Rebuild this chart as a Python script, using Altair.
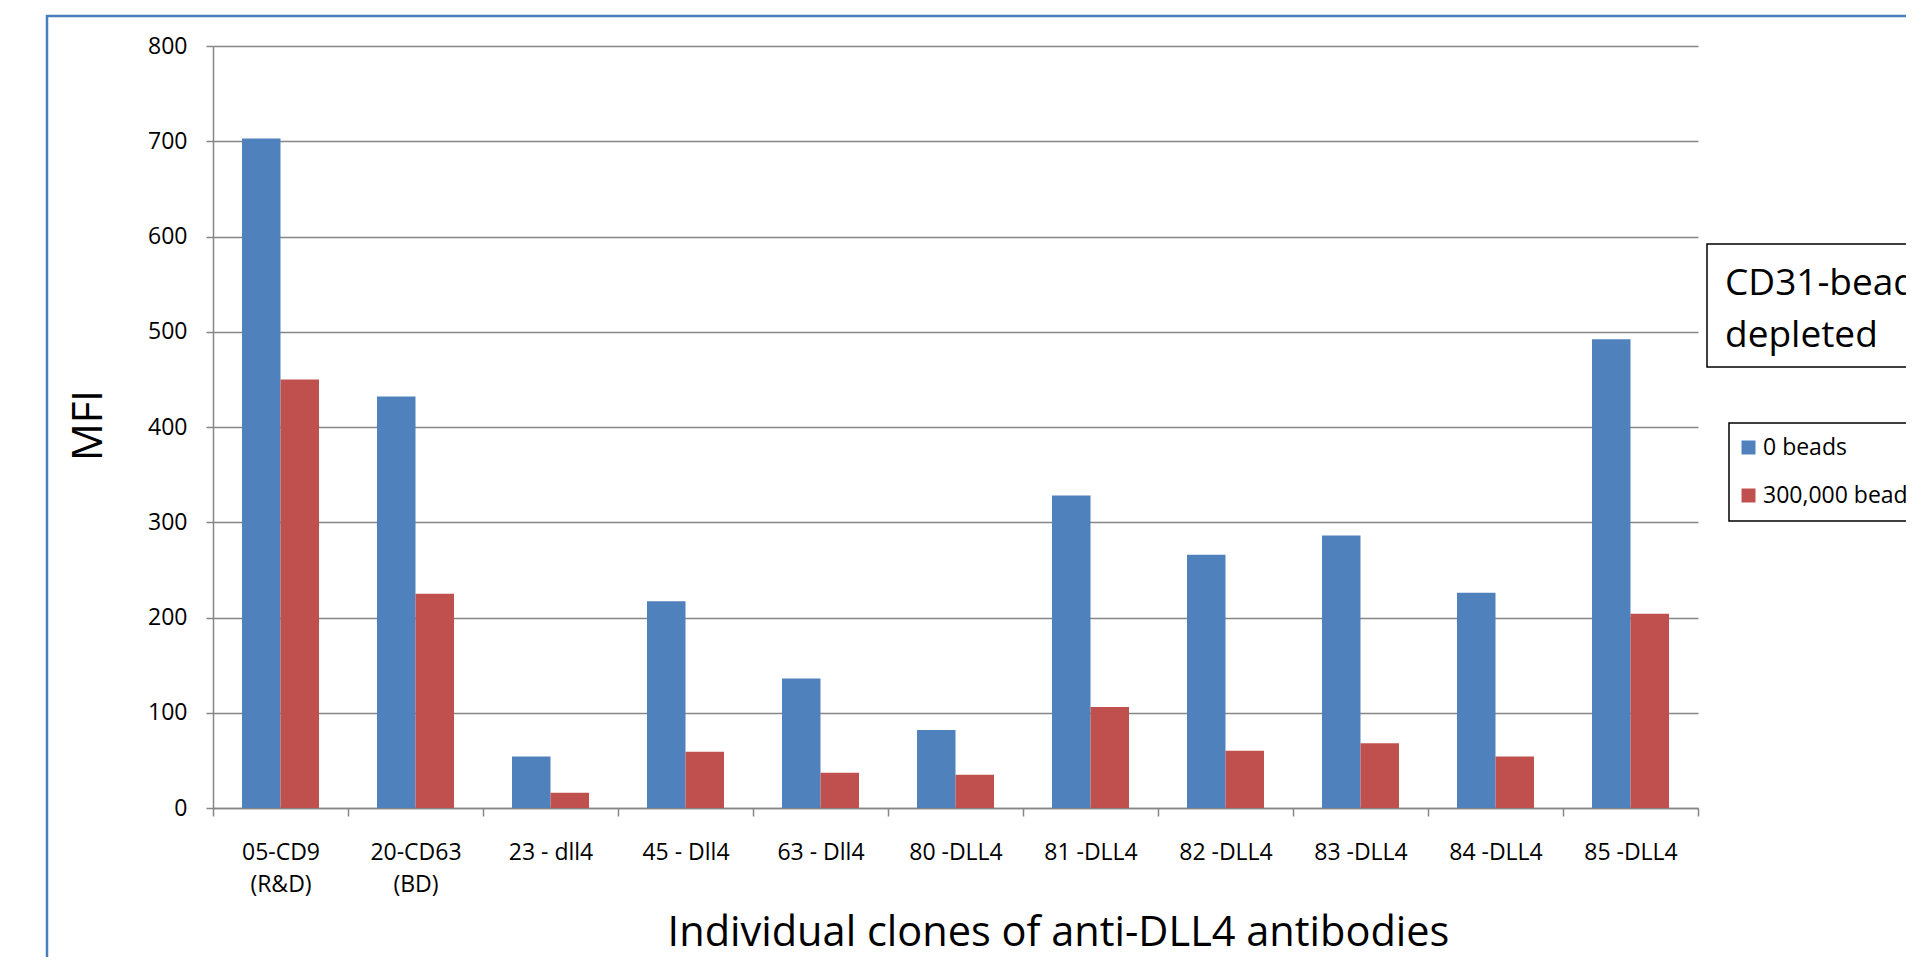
import altair as alt
import pandas as pd

clones = ["05-CD9 (R&D)", "20-CD63 (BD)", "23 - dll4", "45 - Dll4", "63 - Dll4",
          "80 -DLL4", "81 -DLL4", "82 -DLL4", "83 -DLL4", "84 -DLL4", "85 -DLL4"]
beads0 = [703, 432, 54, 217, 136, 82, 328, 266, 286, 226, 492]
beads300k = [450, 225, 16, 59, 37, 35, 106, 60, 68, 54, 204]
series_names = ["0 beads", "300,000 beads"]
series_colors = ["#4f81bd", "#c0504d"]
y_ticks = [0, 100, 200, 300, 400, 500, 600, 700, 800]
box_text = "CD31-beads\ndepleted"

rows = []
for c, a, b in zip(clones, beads0, beads300k):
    rows.append({"clone": c, "series": series_names[0], "value": a})
    rows.append({"clone": c, "series": series_names[1], "value": b})
df = pd.DataFrame(rows)

FONT = "Open Sans"
W, H = 1485, 762

bars = alt.Chart(df).mark_bar().encode(
    x=alt.X("clone:N", sort=clones,
            scale=alt.Scale(paddingInner=0, paddingOuter=0),
            axis=alt.Axis(title="Individual clones of anti-DLL4 antibodies",
                          labelAngle=0, tickBand="extent", tickSize=8,
                          labelPadding=25, labelFontSize=23, labelLineHeight=32,
                          labelColor="black", labelFont=FONT,
                          labelExpr="split(replace(datum.label, ' (', '|('), '|')",
                          domainColor="#868686", tickColor="#868686",
                          domainWidth=1.5, tickWidth=1.5, grid=False,
                          titleFont=FONT, titleFontSize=41.5, titleFontWeight="normal",
                          titleColor="black", titleX=845, titleY=137,
                          titleAlign="center", titleBaseline="alphabetic")),
    xOffset=alt.XOffset("series:N", sort=series_names,
                        scale=alt.Scale(paddingInner=0, paddingOuter=0.753)),
    y=alt.Y("value:Q", scale=alt.Scale(domain=[0, 800], nice=False),
            axis=alt.Axis(title="MFI", values=y_ticks, tickSize=7, labelPadding=19,
                          labelFontSize=23, labelFont=FONT, labelColor="black",
                          domainColor="#868686", tickColor="#868686",
                          domainWidth=1.5, tickWidth=1.5,
                          grid=True, gridColor="#868686", gridWidth=1.5,
                          titleFont=FONT, titleFontSize=42, titleFontWeight="normal",
                          titleColor="black", titleAngle=270, titleX=-125, titleY=379,
                          titleAlign="center", titleBaseline="middle")),
    color=alt.Color("series:N", sort=series_names,
                    scale=alt.Scale(domain=series_names, range=series_colors),
                    legend=alt.Legend(title=None, orient="none", legendX=1516, legendY=377,
                                      symbolType="square", symbolSize=196,
                                      symbolStrokeWidth=0, symbolOffset=-5,
                                      labelFont=FONT, labelFontSize=23, labelColor="black",
                                      labelOffset={"expr": "3"}, rowPadding=24, padding=13,
                                      strokeColor="black")),
)

frame = alt.Chart(pd.DataFrame({"k": [0]})).mark_rect(
    fill="white", fillOpacity=0, stroke="#4a7ebb", strokeWidth=2.5
).encode(x=alt.value(-166), x2=alt.value(1900), y=alt.value(-30), y2=alt.value(1100))

box = alt.Chart(pd.DataFrame({"k": [0]})).mark_rect(
    fill="white", stroke="black", strokeWidth=1.5
).encode(x=alt.value(1494), x2=alt.value(1800), y=alt.value(198), y2=alt.value(321))

box_label = alt.Chart(pd.DataFrame({"t": [box_text]})).mark_text(
    font=FONT, fontSize=37, align="left", baseline="alphabetic",
    lineBreak="\n", lineHeight=52, color="black"
).encode(text="t:N", x=alt.value(1512), y=alt.value(249))

chart = alt.layer(frame, bars, box, box_label).properties(
    width=W, height=H,
    autosize=alt.AutoSizeParams(type="none"),
    padding={"left": 205, "top": 38, "right": 208, "bottom": 149},
).configure_view(strokeWidth=0).configure_legend(strokeWidth=1.5)

chart.save("out.html", embed_options={"renderer": "svg", "actions": False})
